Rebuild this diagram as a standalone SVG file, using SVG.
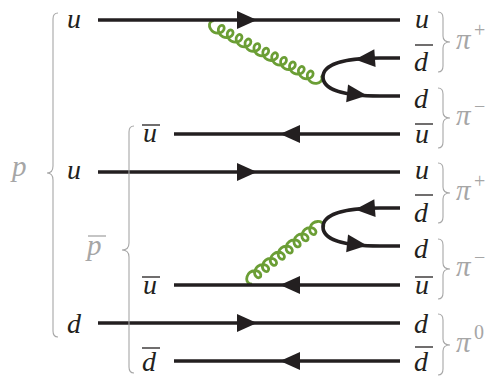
<svg xmlns="http://www.w3.org/2000/svg" width="489" height="376" viewBox="0 0 489 376">
<style>
.q{fill:none;stroke:#231f20;stroke-width:3.6;stroke-linecap:butt}
.g{fill:none;stroke:#6b9e35;stroke-width:2.8;stroke-linejoin:round}
.br{fill:none;stroke:#a6a6a6;stroke-width:1.1}
.ah{fill:#231f20}
.lb{font-family:'Liberation Serif','DejaVu Serif',serif;font-style:italic;font-size:28px;fill:#231f20}
.gl{font-family:'Liberation Serif','DejaVu Serif',serif;font-style:italic;font-size:29px;fill:#a6a6a6}
.sup{font-family:'Liberation Serif','DejaVu Serif',serif;font-size:20px;fill:#a6a6a6}
.bar{stroke:#231f20;stroke-width:1.3}
.gbar{stroke:#a6a6a6;stroke-width:1.3}
</style>
<defs>
<path id="ar" d="M0,0 L-20,-9 L-20,9 Z"/>
</defs>
<rect width="489" height="376" fill="#fff"/>
<g id="connectors">
<path class="g" transform="translate(214,21) rotate(27.2)" d="M0,0 c-1.79,0 -3.33,2.38 -2.5,5 c0.83,2.62 4.05,5 7.5,5 c3.45,0 6.67,-2.38 7.5,-5 c0.83,-2.62 -0.71,-5 -2.5,-5 c-1.79,0 -3.33,2.38 -2.5,5 c0.83,2.62 4.05,5 7.5,5 c3.45,0 6.67,-2.38 7.5,-5 c0.83,-2.62 -0.71,-5 -2.5,-5 c-1.79,0 -3.33,2.38 -2.5,5 c0.83,2.62 4.05,5 7.5,5 c3.45,0 6.67,-2.38 7.5,-5 c0.83,-2.62 -0.71,-5 -2.5,-5 c-1.79,0 -3.33,2.38 -2.5,5 c0.83,2.62 4.05,5 7.5,5 c3.45,0 6.67,-2.38 7.5,-5 c0.83,-2.62 -0.71,-5 -2.5,-5 c-1.79,0 -3.33,2.38 -2.5,5 c0.83,2.62 4.05,5 7.5,5 c3.45,0 6.67,-2.38 7.5,-5 c0.83,-2.62 -0.71,-5 -2.5,-5 c-1.79,0 -3.33,2.38 -2.5,5 c0.83,2.62 4.05,5 7.5,5 c3.45,0 6.67,-2.38 7.5,-5 c0.83,-2.62 -0.71,-5 -2.5,-5 c-1.79,0 -3.33,2.38 -2.5,5 c0.83,2.62 4.05,5 7.5,5 c3.45,0 6.67,-2.38 7.5,-5 c0.83,-2.62 -0.71,-5 -2.5,-5 c-1.79,0 -3.33,2.38 -2.5,5 c0.83,2.62 4.05,5 7.5,5 c3.45,0 6.67,-2.38 7.5,-5 c0.83,-2.62 -0.71,-5 -2.5,-5 c-1.79,0 -3.33,2.38 -2.5,5 c0.83,2.62 4.05,5 7.5,5 c3.45,0 6.67,-2.38 7.5,-5 c0.83,-2.62 -0.71,-5 -2.5,-5 c-1.79,0 -3.33,2.38 -2.5,5 c0.83,2.62 4.05,5 7.5,5 c3.45,0 6.67,-2.38 7.5,-5 c0.83,-2.62 -0.71,-5 -2.5,-5 c-1.79,0 -3.33,2.38 -2.5,5 c0.83,2.62 4.05,5 7.5,5 c3.45,0 6.67,-2.38 7.5,-5 c0.83,-2.62 -0.71,-5 -2.5,-5 c-1.79,0 -3.33,2.38 -2.5,5 c0.83,2.62 4.05,5 7.5,5 c3.45,0 6.67,-2.38 7.5,-5 c0.83,-2.62 -0.71,-5 -2.5,-5"/>
<path class="g" transform="translate(323,228) rotate(142)" d="M0,0 c-1.79,0 -3.33,2.38 -2.5,5 c0.83,2.62 4.05,5 7.5,5 c3.45,0 6.67,-2.38 7.5,-5 c0.83,-2.62 -0.71,-5 -2.5,-5 c-1.79,0 -3.33,2.38 -2.5,5 c0.83,2.62 4.05,5 7.5,5 c3.45,0 6.67,-2.38 7.5,-5 c0.83,-2.62 -0.71,-5 -2.5,-5 c-1.79,0 -3.33,2.38 -2.5,5 c0.83,2.62 4.05,5 7.5,5 c3.45,0 6.67,-2.38 7.5,-5 c0.83,-2.62 -0.71,-5 -2.5,-5 c-1.79,0 -3.33,2.38 -2.5,5 c0.83,2.62 4.05,5 7.5,5 c3.45,0 6.67,-2.38 7.5,-5 c0.83,-2.62 -0.71,-5 -2.5,-5 c-1.79,0 -3.33,2.38 -2.5,5 c0.83,2.62 4.05,5 7.5,5 c3.45,0 6.67,-2.38 7.5,-5 c0.83,-2.62 -0.71,-5 -2.5,-5 c-1.79,0 -3.33,2.38 -2.5,5 c0.83,2.62 4.05,5 7.5,5 c3.45,0 6.67,-2.38 7.5,-5 c0.83,-2.62 -0.71,-5 -2.5,-5 c-1.79,0 -3.33,2.38 -2.5,5 c0.83,2.62 4.05,5 7.5,5 c3.45,0 6.67,-2.38 7.5,-5 c0.83,-2.62 -0.71,-5 -2.5,-5 c-1.79,0 -3.33,2.38 -2.5,5 c0.83,2.62 4.05,5 7.5,5 c3.45,0 6.67,-2.38 7.5,-5 c0.83,-2.62 -0.71,-5 -2.5,-5 c-1.79,0 -3.33,2.38 -2.5,5 c0.83,2.62 4.05,5 7.5,5 c3.45,0 6.67,-2.38 7.5,-5 c0.83,-2.62 -0.71,-5 -2.5,-5"/>
<line class="q" x1="98" y1="20" x2="400" y2="20"/>
<line class="q" x1="174" y1="134" x2="400" y2="134"/>
<line class="q" x1="98" y1="172" x2="400" y2="172"/>
<line class="q" x1="174" y1="285" x2="400" y2="285"/>
<line class="q" x1="98" y1="323" x2="400" y2="323"/>
<line class="q" x1="174" y1="361" x2="400" y2="361"/>
<path class="q" d="M400,58 L380,58 C345,58 323,64 323,77 C323,90 345,96 380,96 L400,96"/>
<path class="q" d="M400,208 L380,208 C345,208 323,214 323,227 C323,240 345,246 380,246 L400,246"/>
<use href="#ar" class="ah" transform="translate(257,20)"/>
<use href="#ar" class="ah" transform="translate(280,134) rotate(180)"/>
<use href="#ar" class="ah" transform="translate(257,172)"/>
<use href="#ar" class="ah" transform="translate(280,285) rotate(180)"/>
<use href="#ar" class="ah" transform="translate(257,323)"/>
<use href="#ar" class="ah" transform="translate(280,361) rotate(180)"/>
<use href="#ar" class="ah" transform="translate(355,59.5) rotate(176)"/>
<use href="#ar" class="ah" transform="translate(367,95.5) rotate(6)"/>
<use href="#ar" class="ah" transform="translate(355,209.5) rotate(176)"/>
<use href="#ar" class="ah" transform="translate(367,245.5) rotate(6)"/>
</g>
<g id="proton">
<path class="br" d="M58,13 C55,13 53,15 53,19 L53,166 C53,170 51,173 47,173 C51,173 53,176 53,180 L53,331 C53,335 55,337 58,337"/>
<text class="gl" x="12" y="176">p</text>
<text class="lb" x="67" y="28">u</text>
<text class="lb" x="67" y="179">u</text>
<text class="lb" x="67" y="333">d</text>
</g>
<g id="antiproton">
<path class="br" d="M134,126 C131,126 129,128 129,132 L129,243 C129,247 127,250 122,250 C127,250 129,253 129,257 L129,367 C129,371 131,373 134,373"/>
<text class="gl" x="87" y="255">p</text>
<line class="gbar" x1="88" y1="236" x2="106" y2="236"/>
<text class="lb" x="143" y="142">u</text>
<line class="bar" x1="142" y1="125" x2="160" y2="125"/>
<text class="lb" x="143" y="294">u</text>
<line class="bar" x1="142" y1="277" x2="160" y2="277"/>
<text class="lb" x="142" y="371">d</text>
<line class="bar" x1="142" y1="348" x2="160" y2="348"/>
</g>
<g id="pion1">
<text class="lb" x="415" y="28">u</text>
<text class="lb" x="414" y="71">d</text>
<line class="bar" x1="415" y1="45" x2="433" y2="45"/>
<path class="br" d="M438,12 C441,12 443,14 443,18 L443,36 C443,40 445,42 450,42 C445,42 443,44 443,48 L443,66 C443,70 441,72 438,72"/>
<text class="gl" x="456" y="49">π</text>
<text class="sup" x="474" y="37">+</text>
</g>
<g id="pion2">
<text class="lb" x="414" y="108">d</text>
<text class="lb" x="415" y="143">u</text>
<line class="bar" x1="415" y1="124" x2="433" y2="124"/>
<path class="br" d="M438,88 C441,88 443,90 443,94 L443,112 C443,116 445,118 450,118 C445,118 443,120 443,124 L443,142 C443,146 441,148 438,148"/>
<text class="gl" x="456" y="125">π</text>
<text class="sup" x="474" y="113">−</text>
</g>
<g id="pion3">
<text class="lb" x="415" y="179">u</text>
<text class="lb" x="414" y="222">d</text>
<line class="bar" x1="415" y1="195" x2="433" y2="195"/>
<path class="br" d="M438,163 C441,163 443,165 443,169 L443,187 C443,191 445,193 450,193 C445,193 443,195 443,199 L443,217 C443,221 441,223 438,223"/>
<text class="gl" x="456" y="200">π</text>
<text class="sup" x="474" y="188">+</text>
</g>
<g id="pion4">
<text class="lb" x="414" y="258">d</text>
<text class="lb" x="415" y="294">u</text>
<line class="bar" x1="415" y1="277" x2="433" y2="277"/>
<path class="br" d="M438,239 C441,239 443,241 443,245 L443,263 C443,267 445,269 450,269 C445,269 443,271 443,275 L443,293 C443,297 441,299 438,299"/>
<text class="gl" x="456" y="276">π</text>
<text class="sup" x="474" y="264">−</text>
</g>
<g id="pion5">
<text class="lb" x="414" y="333">d</text>
<text class="lb" x="414" y="371">d</text>
<line class="bar" x1="415" y1="347" x2="433" y2="347"/>
<path class="br" d="M438,314 C441,314 443,316 443,320 L443,339 C443,343 445,345 450,345 C445,345 443,347 443,351 L443,369 C443,373 441,375 438,375"/>
<text class="gl" x="456" y="352">π</text>
<text class="sup" x="474" y="339">0</text>
</g>
</svg>
